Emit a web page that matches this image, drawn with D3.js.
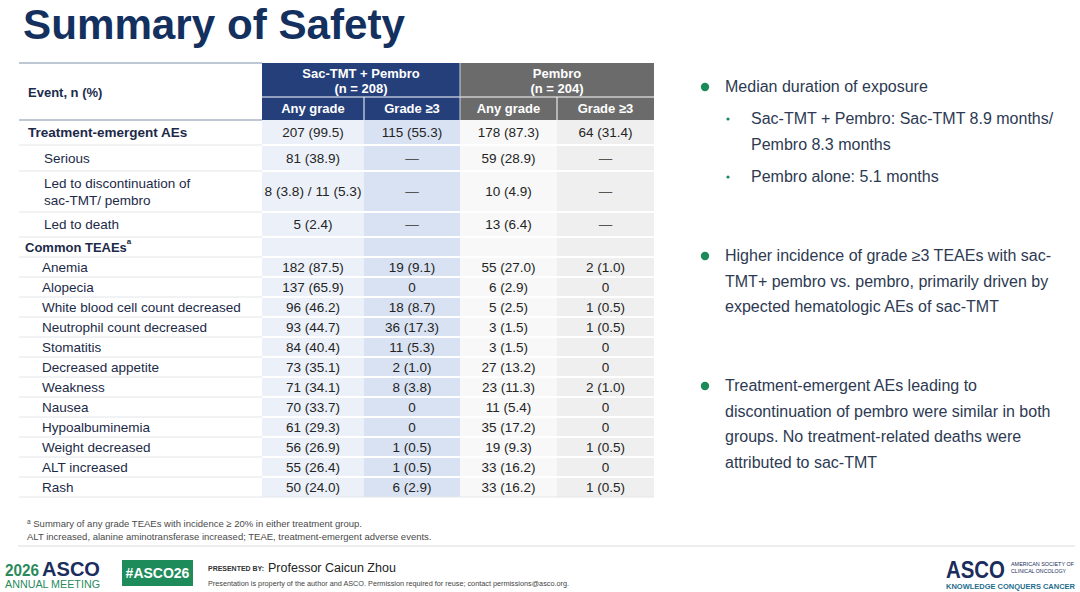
<!DOCTYPE html>
<html lang="en">
<head>
    <meta charset="UTF-8">
    <title>Summary of Safety</title>
    <script src="https://cdn.jsdelivr.net/npm/d3@7/dist/d3.min.js"></script>
    <style>
        html, body { margin: 0; padding: 0; background: #fff; }
        svg { display: block; font-family: "Liberation Sans", Arial, sans-serif; }
    </style>
</head>
<body>
    <div id="chart"></div>

    <script>
        // --- table data ---
        const eventLabels = [
            "Treatment-emergent AEs", "Serious", "Led to discontinuation of|sac-TMT/ pembro", "Led to death",
            "Common TEAEs",
            "Anemia", "Alopecia", "White blood cell count decreased", "Neutrophil count decreased",
            "Stomatitis", "Decreased appetite", "Weakness", "Nausea", "Hypoalbuminemia",
            "Weight decreased", "ALT increased", "Rash"
        ];
        const sacAnyGrade = ["207 (99.5)", "81 (38.9)", "8 (3.8) / 11 (5.3)", "5 (2.4)", "",
            "182 (87.5)", "137 (65.9)", "96 (46.2)", "93 (44.7)", "84 (40.4)", "73 (35.1)",
            "71 (34.1)", "70 (33.7)", "61 (29.3)", "56 (26.9)", "55 (26.4)", "50 (24.0)"];
        const sacGrade3 = ["115 (55.3)", "—", "—", "—", "",
            "19 (9.1)", "0", "18 (8.7)", "36 (17.3)", "11 (5.3)", "2 (1.0)",
            "8 (3.8)", "0", "0", "1 (0.5)", "1 (0.5)", "6 (2.9)"];
        const pemAnyGrade = ["178 (87.3)", "59 (28.9)", "10 (4.9)", "13 (6.4)", "",
            "55 (27.0)", "6 (2.9)", "5 (2.5)", "3 (1.5)", "3 (1.5)", "27 (13.2)",
            "23 (11.3)", "11 (5.4)", "35 (17.2)", "19 (9.3)", "33 (16.2)", "33 (16.2)"];
        const pemGrade3 = ["64 (31.4)", "—", "—", "—", "",
            "2 (1.0)", "0", "1 (0.5)", "1 (0.5)", "0", "0",
            "2 (1.0)", "0", "0", "1 (0.5)", "0", "1 (0.5)"];
        const sectionRows = [0, 4];   // bold rows
        const groups = [
            { name: "Sac-TMT + Pembro", n: "(n = 208)", cols: ["sacAny", "sacG3"], fill: "#253f7b" },
            { name: "Pembro", n: "(n = 204)", cols: ["pemAny", "pemG3"], fill: "#6b6b6b" }
        ];
        const subHeaders = ["Any grade", "Grade ≥3", "Any grade", "Grade ≥3"];

        // --- layout ---
        const W = 1080, H = 592;
        const tableLeft = 19, tableTop = 63, headMid = 97, headBottom = 120;
        const rowHeights = [25, 26, 41, 25, 20, 20, 20, 20, 20, 20, 20, 20, 20, 20, 20, 20, 20];
        const rowTops = [headBottom].concat(Array.from(d3.cumsum(rowHeights), v => headBottom + v));
        const tableBottom = rowTops[rowTops.length - 1];

        const colKeys = ["sacAny", "sacG3", "pemAny", "pemG3"];
        const colValues = { sacAny: sacAnyGrade, sacG3: sacGrade3, pemAny: pemAnyGrade, pemG3: pemGrade3 };
        const colFills = { sacAny: "#ecf1f9", sacG3: "#d9e2f2", pemAny: "#f8f8f8", pemG3: "#efefef" };

        // column edges are slightly uneven on the slide
        const colEdges = [262, 364, 460, 557, 654];
        const x = d3.scaleOrdinal().domain(colKeys).range(colEdges.slice(0, 4));
        const cw = d3.scaleOrdinal().domain(colKeys).range(d3.pairs(colEdges, (a, b) => b - a));
        const tableRight = colEdges[4];

        const svg = d3.select("#chart").append("svg")
            .attr("width", W).attr("height", H)
            .attr("viewBox", [0, 0, W, H]);

        // title
        svg.append("text")
            .attr("x", 23).attr("y", 39)
            .attr("font-size", 43).attr("font-weight", "bold")
            .attr("fill", "#13305f")
            .attr("textLength", 382).attr("lengthAdjust", "spacingAndGlyphs")
            .text("Summary of Safety");

        // column backgrounds
        svg.append("g").selectAll("rect")
            .data(colKeys)
            .join("rect")
            .attr("x", d => x(d)).attr("y", headBottom)
            .attr("width", d => cw(d)).attr("height", tableBottom - headBottom)
            .attr("fill", d => colFills[d]);

        // group headers
        const gh = svg.append("g");
        groups.forEach(g => {
            const x0 = x(g.cols[0]), x1 = x(g.cols[1]) + cw(g.cols[1]);
            gh.append("rect").attr("x", x0).attr("y", tableTop)
                .attr("width", x1 - x0).attr("height", headBottom - tableTop)
                .attr("fill", g.fill);
            gh.append("text").attr("x", (x0 + x1) / 2).attr("y", 78)
                .attr("text-anchor", "middle").attr("font-size", 13).attr("font-weight", "bold")
                .attr("fill", "#fff").text(g.name);
            gh.append("text").attr("x", (x0 + x1) / 2).attr("y", 93)
                .attr("text-anchor", "middle").attr("font-size", 13).attr("font-weight", "bold")
                .attr("fill", "#fff").text(g.n);
            gh.append("line").attr("x1", x0).attr("x2", x1).attr("y1", headMid).attr("y2", headMid)
                .attr("stroke", "#fff").attr("stroke-width", 1);
            gh.append("line").attr("x1", x(g.cols[1])).attr("x2", x(g.cols[1]))
                .attr("y1", headMid).attr("y2", headBottom)
                .attr("stroke", "#fff").attr("stroke-width", 1);
        });
        gh.append("line").attr("x1", x("pemAny")).attr("x2", x("pemAny"))
            .attr("y1", tableTop).attr("y2", headBottom)
            .attr("stroke", "#d0d4dc").attr("stroke-width", 1);

        gh.selectAll("text.sub")
            .data(colKeys)
            .join("text")
            .attr("class", "sub")
            .attr("x", d => x(d) + cw(d) / 2).attr("y", 113)
            .attr("text-anchor", "middle").attr("font-size", 13).attr("font-weight", "bold")
            .attr("fill", "#fff")
            .text((d, i) => subHeaders[i]);

        // left header
        svg.append("line").attr("x1", tableLeft).attr("x2", x("sacAny"))
            .attr("y1", tableTop).attr("y2", tableTop)
            .attr("stroke", "#a9b4c6").attr("stroke-width", 1.5);
        svg.append("line").attr("x1", tableLeft).attr("x2", x("sacAny"))
            .attr("y1", headBottom).attr("y2", headBottom)
            .attr("stroke", "#a9b4c6").attr("stroke-width", 1.5);
        svg.append("text").attr("x", 28).attr("y", 97)
            .attr("font-size", 13).attr("font-weight", "bold").attr("fill", "#1b2b4d")
            .text("Event, n (%)");

        // row separators
        const sep = svg.append("g");
        rowTops.slice(1).forEach((yy, i) => {
            const last = i === rowTops.length - 2;
            sep.append("line").attr("x1", tableLeft).attr("x2", x("sacAny"))
                .attr("y1", yy).attr("y2", yy)
                .attr("stroke", "#e3e5e9").attr("stroke-width", 1.2);
            sep.append("line").attr("x1", x("sacAny")).attr("x2", tableRight)
                .attr("y1", yy).attr("y2", yy)
                .attr("stroke", last ? "#e3e5e9" : "#ffffff").attr("stroke-width", last ? 1.2 : 2);
        });

        // row labels
        const labels = svg.append("g").attr("fill", "#1c2a48").attr("font-size", 13.5);
        eventLabels.forEach((lab, i) => {
            const yc = (rowTops[i] + rowTops[i + 1]) / 2;
            const isSection = sectionRows.includes(i);
            const lx = i === 0 ? 28 : i === 4 ? 25 : i < 4 ? 44 : 42;
            const t = labels.append("text").attr("x", lx)
                .attr("font-weight", isSection ? "bold" : null);
            const parts = lab.split("|");
            if (parts.length > 1) {
                parts.forEach((p, k) => t.append("tspan").attr("x", lx)
                    .attr("y", yc + (k - 0.5) * 17).attr("dy", "0.35em").text(p));
            } else {
                t.attr("y", yc).attr("dy", "0.35em").text(lab);
                if (i === 4) {
                    t.attr("font-size", 13);
                    t.append("tspan").attr("font-size", 8).attr("dy", "-0.9em").text("a");
                }
            }
        });

        // cell values
        const cells = svg.append("g").attr("font-size", 13.5).attr("fill", "#242424")
            .attr("text-anchor", "middle");
        colKeys.forEach(k => {
            cells.selectAll(null)
                .data(colValues[k])
                .join("text")
                .attr("x", x(k) + cw(k) / 2)
                .attr("y", (d, i) => (rowTops[i] + rowTops[i + 1]) / 2)
                .attr("dy", "0.35em")
                .attr("fill", d => d === "—" ? "#555" : null)
                .attr("textLength", d => d.length > 12 ? 97 : null)
                .attr("lengthAdjust", "spacingAndGlyphs")
                .text(d => d);
        });

        // right-hand bullets
        const notes = svg.append("g").attr("font-size", 16).attr("fill", "#2d3a52");
        const green = "#1b8a59";
        const bullet = (cy, lines) => {
            notes.append("circle").attr("cx", 705).attr("cy", cy - 5).attr("r", 4.2).attr("fill", green);
            lines.forEach((l, k) => notes.append("text").attr("x", 725).attr("y", cy + k * 25.5).text(l));
        };
        const subBullet = (cy, lines) => {
            notes.append("circle").attr("cx", 728).attr("cy", cy - 5).attr("r", 1.6).attr("fill", green);
            lines.forEach((l, k) => notes.append("text").attr("x", 751).attr("y", cy + k * 25.5).text(l));
        };
        bullet(92, ["Median duration of exposure"]);
        subBullet(124, ["Sac-TMT + Pembro: Sac-TMT 8.9 months/", "Pembro 8.3 months"]);
        subBullet(182, ["Pembro alone: 5.1 months"]);
        bullet(261, ["Higher incidence of grade ≥3 TEAEs with sac-", "TMT+ pembro vs. pembro, primarily driven by",
            "expected hematologic AEs of sac-TMT"]);
        bullet(391, ["Treatment-emergent AEs leading to", "discontinuation of pembro were similar in both",
            "groups. No treatment-related deaths were", "attributed to sac-TMT"]);

        // footnotes
        const fn = svg.append("g").attr("font-size", 9.5).attr("fill", "#4a4a4a");
        const f1 = fn.append("text").attr("x", 27).attr("y", 527);
        f1.append("tspan").attr("font-size", 6.5).attr("dy", "-3").text("a");
        f1.append("tspan").attr("dy", "3").text(" Summary of any grade TEAEs with incidence ≥ 20% in either treatment group.");
        fn.append("text").attr("x", 27).attr("y", 540)
            .text("ALT increased, alanine aminotransferase increased; TEAE, treatment-emergent adverse events.");

        // footer
        svg.append("line").attr("x1", 18).attr("x2", 1075).attr("y1", 546).attr("y2", 546)
            .attr("stroke", "#dcdcdc").attr("stroke-width", 1);

        const ft = svg.append("g");
        ft.append("text").attr("x", 5).attr("y", 576).attr("font-size", 16).attr("font-weight", "bold")
            .attr("fill", "#2a8a5b").attr("textLength", 34).attr("lengthAdjust", "spacingAndGlyphs").text("2026");
        ft.append("text").attr("x", 42).attr("y", 576).attr("font-size", 21).attr("font-weight", "bold")
            .attr("fill", "#1a2d5c").attr("textLength", 58).attr("lengthAdjust", "spacingAndGlyphs").text("ASCO");
        ft.append("text").attr("x", 5).attr("y", 588).attr("font-size", 10)
            .attr("fill", "#2a8a5b").attr("textLength", 95).attr("lengthAdjust", "spacingAndGlyphs").text("ANNUAL MEETING");

        ft.append("rect").attr("x", 122).attr("y", 560).attr("width", 71).attr("height", 26).attr("fill", "#1e8b5b");
        ft.append("text").attr("x", 157.5).attr("y", 578).attr("text-anchor", "middle")
            .attr("font-size", 14).attr("font-weight", "bold").attr("fill", "#fff").text("#ASCO26");

        ft.append("text").attr("x", 208).attr("y", 571).attr("font-size", 7).attr("font-weight", "bold")
            .attr("fill", "#333").attr("textLength", 56).attr("lengthAdjust", "spacingAndGlyphs").text("PRESENTED BY:");
        ft.append("text").attr("x", 268).attr("y", 572).attr("font-size", 12.5)
            .attr("fill", "#222").text("Professor Caicun Zhou");
        ft.append("text").attr("x", 208).attr("y", 586).attr("font-size", 6.8).attr("fill", "#444")
            .attr("textLength", 361).attr("lengthAdjust", "spacingAndGlyphs")
            .text("Presentation is property of the author and ASCO. Permission required for reuse; contact permissions@asco.org.");

        ft.append("text").attr("x", 946).attr("y", 578).attr("font-size", 23).attr("font-weight", "bold")
            .attr("fill", "#1a2d5c").attr("textLength", 59).attr("lengthAdjust", "spacingAndGlyphs").text("ASCO");
        ft.append("text").attr("x", 1011).attr("y", 566).attr("font-size", 5).attr("fill", "#1a2d5c")
            .attr("textLength", 63).attr("lengthAdjust", "spacingAndGlyphs").text("AMERICAN SOCIETY OF");
        ft.append("text").attr("x", 1011).attr("y", 573).attr("font-size", 5).attr("fill", "#1a2d5c")
            .attr("textLength", 55).attr("lengthAdjust", "spacingAndGlyphs").text("CLINICAL ONCOLOGY");
        ft.append("text").attr("x", 946).attr("y", 589).attr("font-size", 7).attr("font-weight", "bold")
            .attr("fill", "#1f6e8e").attr("textLength", 129).attr("lengthAdjust", "spacingAndGlyphs")
            .text("KNOWLEDGE CONQUERS CANCER");
    </script>
</body>
</html>
